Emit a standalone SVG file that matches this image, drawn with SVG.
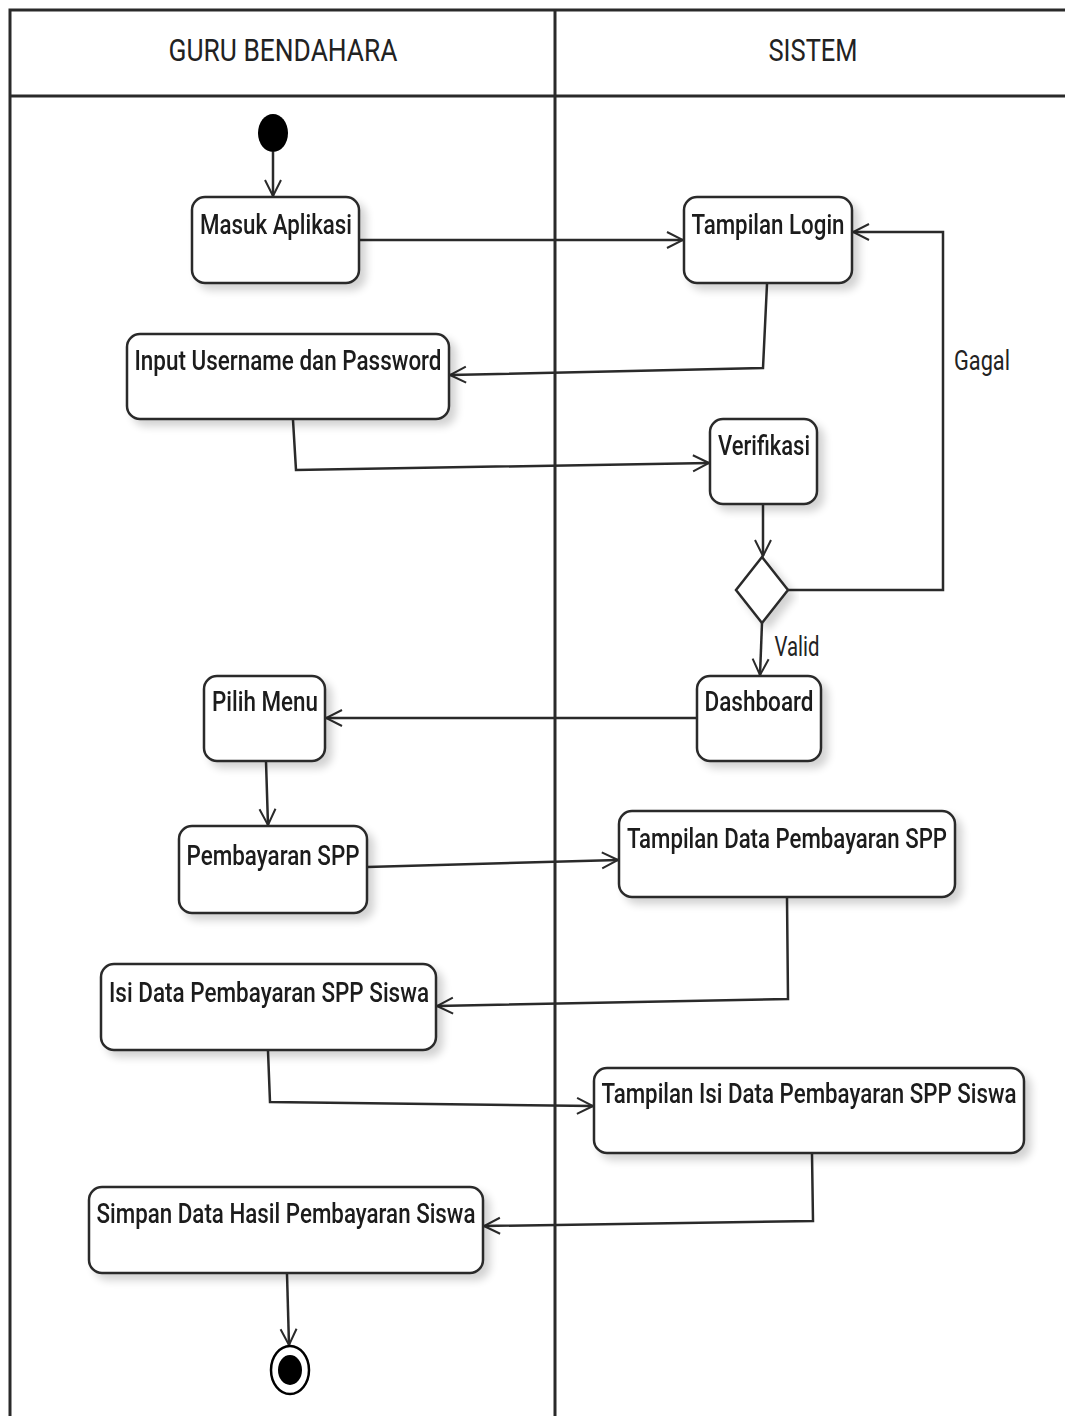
<svg xmlns="http://www.w3.org/2000/svg" width="1065" height="1416" viewBox="0 0 1065 1416">
  <defs>
    <style>
      .lane { fill: none; stroke: #2a2a2a; stroke-width: 3; }
      .head { font-family: Roboto, "Liberation Sans", sans-serif; font-size: 32px; fill: #222; text-anchor: middle; }
      .act rect { fill: #fff; stroke: #2a2a2a; stroke-width: 2.5; }
      .act text { font-family: Roboto, "Liberation Sans", sans-serif; font-size: 28px; font-weight: 500; fill: #1a1a1a; }
      .edge { fill: none; stroke: #2a2a2a; stroke-width: 2.5; marker-end: url(#open); }
      .lbl { font-family: Roboto, "Liberation Sans", sans-serif; font-size: 27px; fill: #222; }
    </style>
    <marker id="open" viewBox="0 0 20 20" refX="18" refY="10" markerWidth="20" markerHeight="20" markerUnits="userSpaceOnUse" orient="auto">
      <path d="M2 2 L18 10 L2 18" fill="none" stroke="#2a2a2a" stroke-width="2"/>
    </marker>
    <filter id="shadow" x="-10%" y="-10%" width="130%" height="140%">
      <feGaussianBlur in="SourceAlpha" stdDeviation="4"/>
      <feOffset dx="6" dy="6" result="b"/>
      <feComponentTransfer><feFuncA type="linear" slope="0.18"/></feComponentTransfer>
      <feMerge><feMergeNode/><feMergeNode in="SourceGraphic"/></feMerge>
    </filter>
  </defs>

  <rect width="1065" height="1416" fill="#fff"/>

  <!-- swimlanes -->
  <g id="lanes">
    <path class="lane" d="M10 1416 V10 H1065"/>
    <path class="lane" d="M10 96 H1065"/>
    <path class="lane" d="M555 10 V1416"/>
    <text class="head" x="283" y="61" textLength="229" lengthAdjust="spacingAndGlyphs">GURU BENDAHARA</text>
    <text class="head" x="813" y="61" textLength="89" lengthAdjust="spacingAndGlyphs">SISTEM</text>
  </g>

  <!-- connectors -->
  <g id="connectors">
    <path class="edge" d="M273 152 V196"/>
    <path class="edge" d="M359 240 H683"/>
    <path class="edge" d="M767 284 L763 368 L450 375"/>
    <path class="edge" d="M293 420 L296 470 L709 463"/>
    <path class="edge" d="M763 505 V556"/>
    <path class="edge" d="M788 590 H943 V232 H853"/>
    <path class="edge" d="M762 623 L760 675"/>
    <path class="edge" d="M697 718 H326"/>
    <path class="edge" d="M266 762 L268 825"/>
    <path class="edge" d="M367 867 L618 860"/>
    <path class="edge" d="M787 898 L788 999 L437 1006"/>
    <path class="edge" d="M268 1051 L270 1102 L593 1106"/>
    <path class="edge" d="M812 1154 L813 1221 L484 1226"/>
    <path class="edge" d="M287 1274 L289 1345"/>
    <text class="lbl" x="982" y="370" text-anchor="middle" textLength="56" lengthAdjust="spacingAndGlyphs">Gagal</text>
    <text class="lbl" x="797" y="656" text-anchor="middle" textLength="45" lengthAdjust="spacingAndGlyphs">Valid</text>
  </g>

  <!-- start / end -->
  <g id="start">
    <ellipse cx="273" cy="133" rx="15" ry="19" fill="#000"/>
  </g>
  <g id="end">
    <ellipse cx="290" cy="1370" rx="19" ry="24" fill="#fff" stroke="#000" stroke-width="2.5"/>
    <ellipse cx="290" cy="1370" rx="12" ry="15" fill="#000"/>
  </g>

  <!-- decision -->
  <g id="decision" filter="url(#shadow)">
    <path d="M762 557 L788 590 L762 623 L736 590 Z" fill="#fff" stroke="#2a2a2a" stroke-width="2.5"/>
  </g>

  <!-- activities -->
  <g id="masuk-aplikasi" class="act" filter="url(#shadow)">
    <rect x="192" y="197" width="167" height="86" rx="13"/>
    <text x="276" y="234" text-anchor="middle" textLength="152" lengthAdjust="spacingAndGlyphs">Masuk Aplikasi</text>
  </g>
  <g id="tampilan-login" class="act" filter="url(#shadow)">
    <rect x="684" y="197" width="168" height="86" rx="13"/>
    <text x="768" y="234" text-anchor="middle" textLength="153" lengthAdjust="spacingAndGlyphs">Tampilan Login</text>
  </g>
  <g id="input-login" class="act" filter="url(#shadow)">
    <rect x="127" y="334" width="322" height="85" rx="13"/>
    <text x="288" y="370" text-anchor="middle" textLength="307" lengthAdjust="spacingAndGlyphs">Input Username dan Password</text>
  </g>
  <g id="verifikasi" class="act" filter="url(#shadow)">
    <rect x="710" y="419" width="107" height="85" rx="13"/>
    <text x="764" y="455" text-anchor="middle" textLength="92" lengthAdjust="spacingAndGlyphs">Verifikasi</text>
  </g>
  <g id="dashboard" class="act" filter="url(#shadow)">
    <rect x="697" y="676" width="124" height="85" rx="13"/>
    <text x="759" y="711" text-anchor="middle" textLength="109" lengthAdjust="spacingAndGlyphs">Dashboard</text>
  </g>
  <g id="pilih-menu" class="act" filter="url(#shadow)">
    <rect x="204" y="676" width="121" height="85" rx="13"/>
    <text x="265" y="711" text-anchor="middle" textLength="106" lengthAdjust="spacingAndGlyphs">Pilih Menu</text>
  </g>
  <g id="pembayaran-spp" class="act" filter="url(#shadow)">
    <rect x="179" y="826" width="188" height="87" rx="13"/>
    <text x="273" y="865" text-anchor="middle" textLength="173" lengthAdjust="spacingAndGlyphs">Pembayaran SPP</text>
  </g>
  <g id="tampilan-data" class="act" filter="url(#shadow)">
    <rect x="619" y="811" width="336" height="86" rx="13"/>
    <text x="787" y="848" text-anchor="middle" textLength="320" lengthAdjust="spacingAndGlyphs">Tampilan Data Pembayaran SPP</text>
  </g>
  <g id="isi-data" class="act" filter="url(#shadow)">
    <rect x="101" y="964" width="335" height="86" rx="13"/>
    <text x="269" y="1002" text-anchor="middle" textLength="320" lengthAdjust="spacingAndGlyphs">Isi Data Pembayaran SPP Siswa</text>
  </g>
  <g id="tampilan-isi-data" class="act" filter="url(#shadow)">
    <rect x="594" y="1068" width="430" height="85" rx="13"/>
    <text x="809" y="1103" text-anchor="middle" textLength="415" lengthAdjust="spacingAndGlyphs">Tampilan Isi Data Pembayaran SPP Siswa</text>
  </g>
  <g id="simpan-data" class="act" filter="url(#shadow)">
    <rect x="89" y="1187" width="394" height="86" rx="13"/>
    <text x="286" y="1223" text-anchor="middle" textLength="379" lengthAdjust="spacingAndGlyphs">Simpan Data Hasil Pembayaran Siswa</text>
  </g>
</svg>
